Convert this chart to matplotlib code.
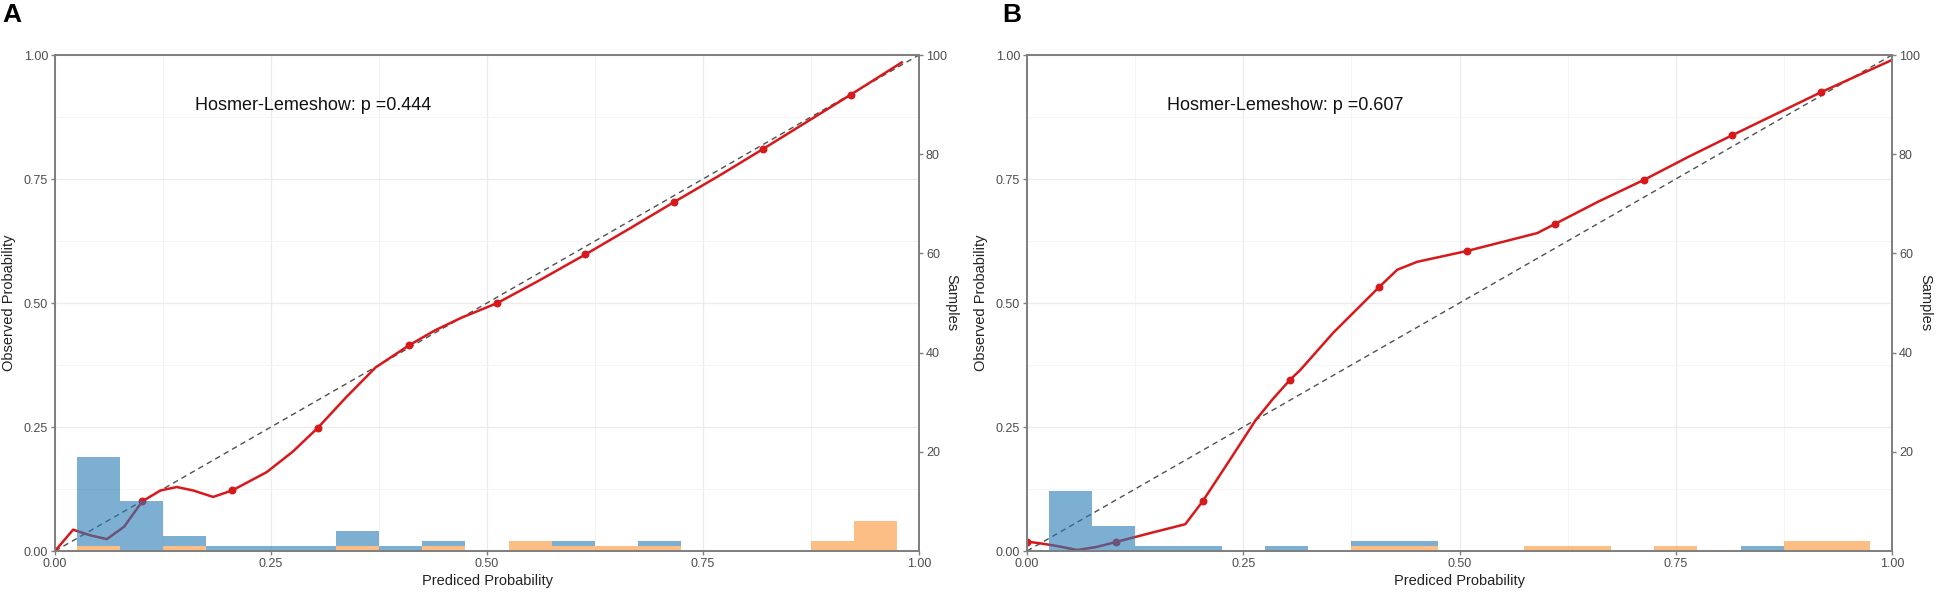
import numpy as np
import matplotlib
matplotlib.use("Agg")
import matplotlib.pyplot as plt
from matplotlib.ticker import MultipleLocator

plt.rcParams['font.family'] = ['Liberation Sans Narrow', 'Liberation Sans', 'DejaVu Sans']

# histogram bins (centres), width 0.05
bin_centers = [0.05, 0.10, 0.15, 0.20, 0.25, 0.30, 0.35, 0.40, 0.45, 0.50,
               0.55, 0.60, 0.65, 0.70, 0.75, 0.80, 0.85, 0.90, 0.95]

# panel A
a_blue = [18, 10, 2, 1, 1, 1, 3, 1, 1, 0, 0, 1, 0, 1, 0, 0, 0, 0, 0]
a_orange = [1, 0, 1, 0, 0, 0, 1, 0, 1, 0, 2, 1, 1, 1, 0, 0, 0, 2, 6]
a_curve_x = [0.0, 0.021, 0.04, 0.06, 0.08, 0.101, 0.122, 0.141, 0.16, 0.183, 0.205,
             0.245, 0.275, 0.304, 0.337, 0.371, 0.41, 0.44, 0.47, 0.512, 0.56,
             0.614, 0.665, 0.716, 0.77, 0.819, 0.87, 0.921, 0.98]
a_curve_y = [0.0, 0.043, 0.032, 0.024, 0.049, 0.10, 0.122, 0.129, 0.122, 0.109, 0.122,
             0.159, 0.20, 0.248, 0.31, 0.37, 0.415, 0.445, 0.47, 0.50, 0.545,
             0.598, 0.65, 0.703, 0.758, 0.81, 0.865, 0.92, 0.985]
a_pts_x = [0.101, 0.205, 0.304, 0.41, 0.512, 0.614, 0.716, 0.819, 0.921]
a_pts_y = [0.10, 0.122, 0.248, 0.415, 0.50, 0.598, 0.703, 0.81, 0.92]
a_p = "0.444"

# panel B
b_blue = [12, 5, 1, 1, 0, 1, 0, 1, 1, 0, 0, 0, 0, 0, 0, 0, 1, 0, 0]
b_orange = [0, 0, 0, 0, 0, 0, 0, 1, 1, 0, 0, 1, 1, 0, 1, 0, 0, 2, 2]
b_curve_x = [0.0, 0.017, 0.035, 0.058, 0.08, 0.1025, 0.14, 0.183, 0.203, 0.235,
             0.264, 0.284, 0.304, 0.316, 0.354, 0.407, 0.428, 0.451, 0.509, 0.59,
             0.61, 0.66, 0.713, 0.765, 0.815, 0.867, 0.918, 1.0]
b_curve_y = [0.019, 0.015, 0.01, 0.002, 0.008, 0.018, 0.035, 0.054, 0.10, 0.185,
             0.263, 0.306, 0.345, 0.365, 0.44, 0.532, 0.567, 0.583, 0.605, 0.641,
             0.659, 0.704, 0.748, 0.795, 0.838, 0.882, 0.925, 0.99]
b_pts_x = [0.0, 0.1025, 0.203, 0.304, 0.407, 0.509, 0.61, 0.713, 0.815, 0.918]
b_pts_y = [0.019, 0.018, 0.10, 0.345, 0.532, 0.605, 0.659, 0.748, 0.838, 0.925]
b_p = "0.607"

RED = '#D7191C'
GRAY = '#7F7F7F'
TXT = '#4D4D4D'


def draw_panel(ax, curve_x, curve_y, pts_x, pts_y, blue, orange, pval):
    ax.plot([0, 1], [0, 1], ls=(0, (4, 3)), color='#505050', lw=1.0, zorder=2)
    ax.plot(curve_x, curve_y, color=RED, lw=1.8, zorder=2)
    ax.scatter(pts_x, pts_y, color=RED, s=22, zorder=2)

    orange = np.array(orange) / 100
    blue = np.array(blue) / 100
    ax.bar(bin_centers, orange, width=0.05, color='#FC9334', alpha=0.6,
           linewidth=0, zorder=3)
    ax.bar(bin_centers, blue, width=0.05, bottom=orange, color='#267AB7',
           alpha=0.6, linewidth=0, zorder=3)

    ax.set_xlim(0, 1)
    ax.set_ylim(0, 1)
    ax.xaxis.set_major_locator(MultipleLocator(0.25))
    ax.yaxis.set_major_locator(MultipleLocator(0.25))
    ax.xaxis.set_minor_locator(MultipleLocator(0.125))
    ax.yaxis.set_minor_locator(MultipleLocator(0.125))
    ax.xaxis.set_major_formatter(lambda v, p: f"{v:.2f}")
    ax.yaxis.set_major_formatter(lambda v, p: f"{v:.2f}")
    ax.grid(which='major', color='#EBEBEB', lw=0.9, zorder=0)
    ax.grid(which='minor', color='#F5F5F5', lw=0.7, zorder=0)
    ax.set_axisbelow(True)
    ax.tick_params(which='major', length=3, color=GRAY, labelcolor=TXT,
                   labelsize=9, width=1, pad=2)
    ax.tick_params(which='minor', length=0)
    for s in ax.spines.values():
        s.set_color(GRAY)
        s.set_linewidth(1.3)
    ax.set_xlabel("Prediced Probability", fontsize=10.5, color='#222222', labelpad=3)
    ax.set_ylabel("Observed Probability", fontsize=10.5, color='#222222')
    ax.yaxis.set_label_coords(-0.045, 0.5)
    ax.text(0.162, 0.898, f"Hosmer-Lemeshow: p ={pval}", transform=ax.transAxes,
            va='center', ha='left', fontsize=13, color='#111111',
            family=['Liberation Sans', 'DejaVu Sans'])

    ax2 = ax.twinx()
    ax2.set_ylim(0, 100)
    ax2.set_yticks([20, 40, 60, 80, 100])
    ax2.tick_params(length=3, color=GRAY, labelcolor=TXT, labelsize=9, width=1, pad=2)
    for s in ax2.spines.values():
        s.set_color(GRAY)
        s.set_linewidth(1.3)
    ax2.set_ylabel("Samples", rotation=270, fontsize=10.5, color='#222222', va='center')
    ax2.yaxis.set_label_coords(1.038, 0.5)


fig = plt.figure(figsize=(19.41, 5.96), dpi=100)
axA = fig.add_axes([55 / 1941, 45 / 596, 864 / 1941, 496 / 596])
axB = fig.add_axes([1027 / 1941, 45 / 596, 865 / 1941, 496 / 596])

draw_panel(axA, a_curve_x, a_curve_y, a_pts_x, a_pts_y, a_blue, a_orange, a_p)
draw_panel(axB, b_curve_x, b_curve_y, b_pts_x, b_pts_y, b_blue, b_orange, b_p)

fig.text(0.001, 0.995, "A", fontsize=19, fontweight='bold', va='top', ha='left',
         family=['Liberation Sans', 'DejaVu Sans'])
fig.text(1002 / 1941, 0.995, "B", fontsize=19, fontweight='bold', va='top', ha='left',
         family=['Liberation Sans', 'DejaVu Sans'])

fig.savefig("out.png", dpi=100)
